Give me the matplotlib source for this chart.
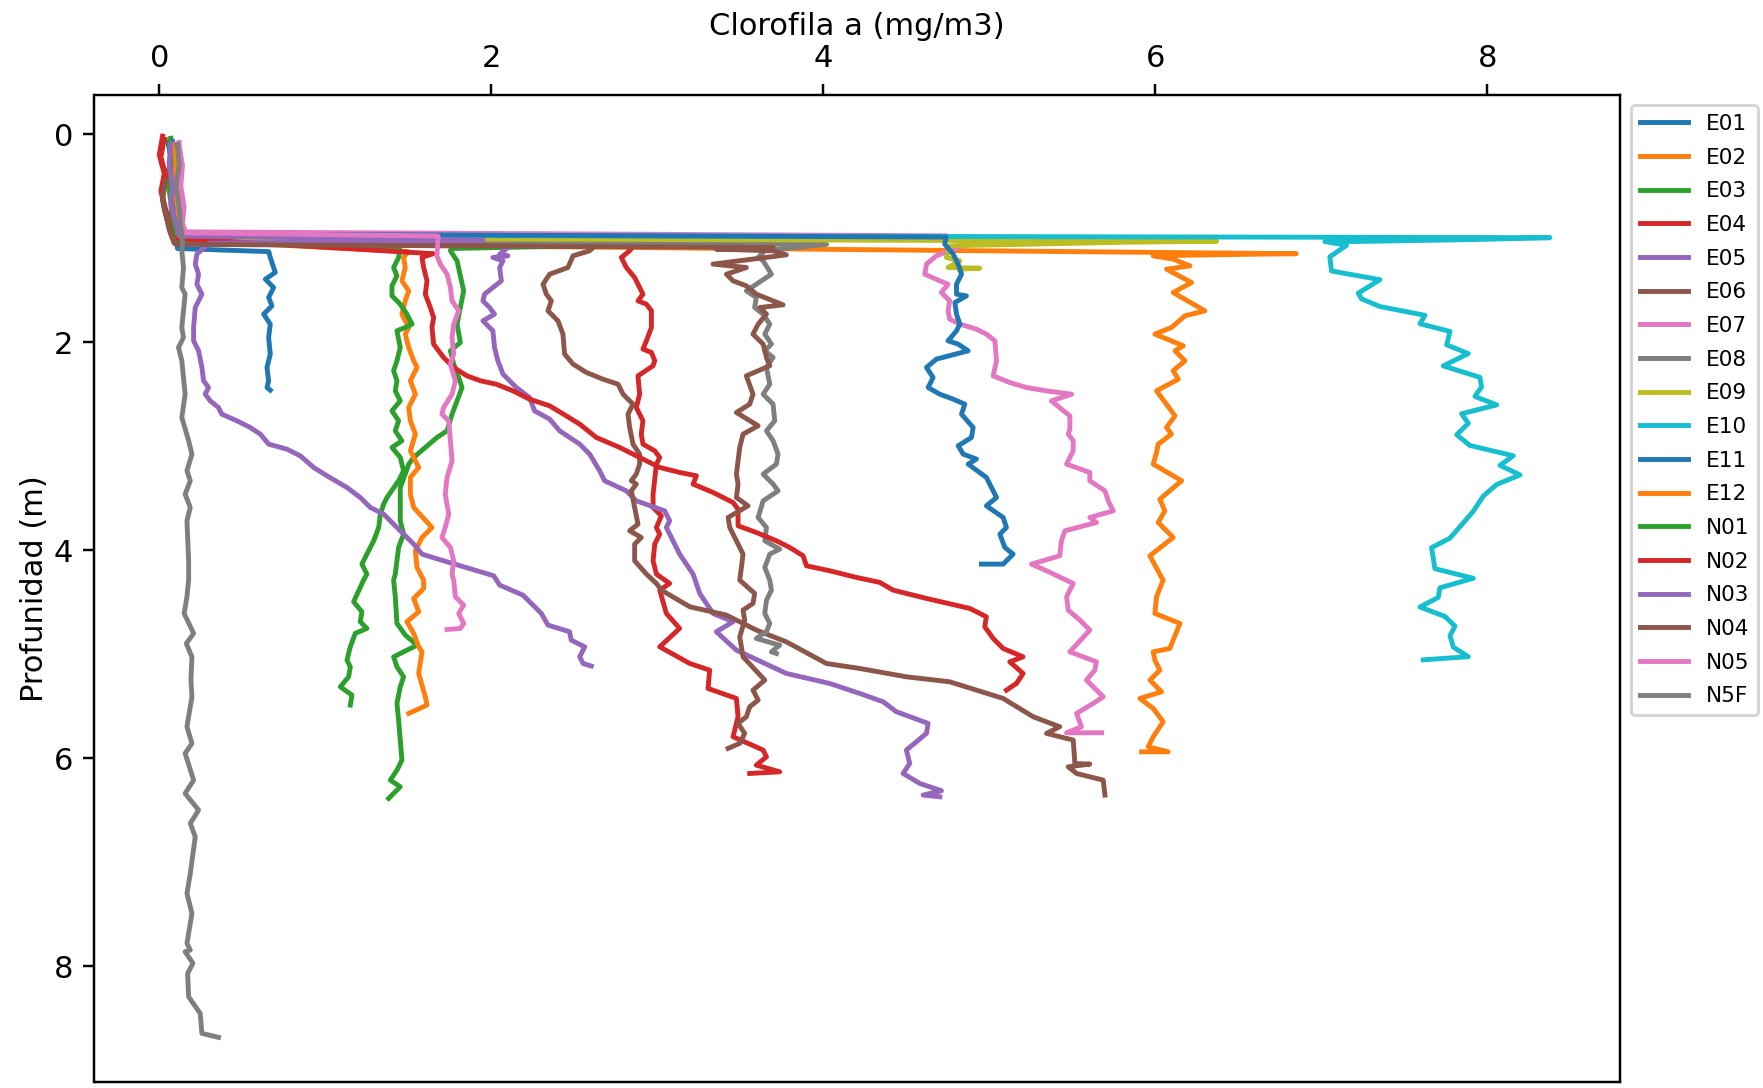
import matplotlib
matplotlib.use('Agg')
import matplotlib.pyplot as plt

# clorofila (x) y profundidad (d) por estacion
e01_x = [0.05, 0.07, 0.06, 0.08, 0.07, 0.10, 0.11, 0.66, 0.669, 0.699, 0.639, 0.689, 0.659, 0.679, 0.629, 0.669, 0.659, 0.669, 0.649, 0.659, 0.649, 0.669]
e01_d = [0.06, 0.22, 0.40, 0.58, 0.76, 0.92, 1.10, 1.13, 1.186, 1.33, 1.395, 1.475, 1.571, 1.651, 1.731, 1.827, 1.955, 2.115, 2.244, 2.372, 2.436, 2.461]

e02_x = [0.06, 0.08, 0.07, 0.09, 0.11, 0.13, 6.85, 6.631, 5.988, 6.108, 6.209, 6.068, 6.219, 6.108, 6.299, 6.179, 6.098, 5.998, 6.169, 6.119, 6.179, 6.108, 6.139, 6.008, 6.119, 6.068, 6.098, 6.018, 6.008, 5.988, 6.159, 6.028, 6.058, 6.018, 6.108, 5.968, 6.038, 6.048,
         6.008, 5.998, 6.149, 6.108, 6.088, 5.988, 5.998, 6.028, 5.968, 6.038, 5.908, 5.988, 6.048, 5.988, 5.958, 6.078, 5.918]
e02_d = [0.05, 0.25, 0.45, 0.65, 0.85, 1.05, 1.15, 1.154, 1.170, 1.202, 1.267, 1.299, 1.427, 1.523, 1.699, 1.747, 1.859, 1.923, 2.035, 2.083, 2.179, 2.275, 2.356, 2.468, 2.708, 2.820, 2.884, 2.980, 3.060, 3.172, 3.332, 3.509, 3.621, 3.733, 3.877, 4.053, 4.261, 4.287,
         4.447, 4.607, 4.703, 4.864, 4.944, 4.976, 5.056, 5.152, 5.248, 5.360, 5.424, 5.520, 5.648, 5.792, 5.888, 5.937, 5.937]

e03_x = [0.07, 0.08, 0.06, 0.08, 0.09, 0.11, 2.69, 1.76, 1.754, 1.794, 1.834, 1.814, 1.794, 1.814, 1.754, 1.774, 1.804, 1.824, 1.794, 1.764, 1.734, 1.673, 1.603, 1.533, 1.503, 1.482, 1.452, 1.452, 1.452, 1.472, 1.442, 1.432, 1.422,
         1.412, 1.422, 1.432, 1.482, 1.553, 1.412, 1.432, 1.472, 1.452, 1.432, 1.442, 1.452, 1.462, 1.432, 1.392, 1.452, 1.412, 1.382]
e03_d = [0.04, 0.22, 0.42, 0.62, 0.82, 1.00, 1.07, 1.10, 1.122, 1.218, 1.507, 1.667, 1.827, 2.003, 2.083, 2.211, 2.340, 2.436, 2.564, 2.692, 2.852, 2.916, 3.012, 3.108, 3.172, 3.268, 3.397, 3.557, 3.717, 3.845, 3.973, 4.101, 4.229,
         4.287, 4.447, 4.703, 4.815, 4.912, 5.024, 5.120, 5.216, 5.312, 5.472, 5.632, 5.824, 6.017, 6.113, 6.209, 6.273, 6.337, 6.385]

e04_x = [0.02, 0.00, 0.03, 0.01, 0.04, 0.07, 2.87, 2.834, 2.784, 2.814, 2.864, 2.894, 2.914, 2.884, 2.935, 2.965, 2.965, 2.935, 2.914, 2.965, 2.985, 2.975, 2.884, 2.894, 2.874, 2.914, 2.904, 2.914, 2.985, 3.015, 2.995, 2.975, 2.975, 3.025, 2.995, 3.015, 2.985, 2.975, 2.995,
         3.075, 3.015, 3.055, 3.135, 3.015, 3.196, 3.316, 3.306, 3.477, 3.487, 3.457, 3.638, 3.658, 3.597, 3.738, 3.557]
e04_d = [0.02, 0.20, 0.38, 0.55, 0.75, 0.95, 1.04, 1.122, 1.186, 1.283, 1.379, 1.475, 1.539, 1.603, 1.635, 1.699, 1.859, 1.987, 2.067, 2.099, 2.179, 2.227, 2.324, 2.500, 2.628, 2.756, 2.884, 2.980, 3.044, 3.108, 3.172, 3.461, 3.589, 3.669, 3.781, 3.845, 3.941, 4.101, 4.229,
         4.319, 4.383, 4.607, 4.751, 4.928, 5.088, 5.152, 5.328, 5.424, 5.600, 5.792, 5.920, 5.985, 6.065, 6.129, 6.145]

e05_x = [0.07, 0.09, 0.08, 0.10, 0.12, 0.15, 2.17, 2.051, 2.101, 2.010, 2.071, 2.051, 2.061, 2.010, 1.960, 1.950, 1.990, 2.020, 1.950, 2.010, 2.020, 2.040, 2.071, 2.151, 2.231, 2.261, 2.352, 2.412, 2.533, 2.593, 2.653, 2.683, 2.814, 2.874, 3.045, 3.075, 3.055, 3.135, 3.216,
         3.256, 3.336, 3.457, 3.356, 3.477, 3.778, 4.039, 4.220, 4.361, 4.441, 4.632, 4.622, 4.501, 4.521, 4.481, 4.582, 4.712, 4.602, 4.702]
e05_d = [0.10, 0.30, 0.50, 0.70, 0.85, 0.97, 1.00, 1.154, 1.170, 1.186, 1.218, 1.283, 1.411, 1.475, 1.539, 1.603, 1.667, 1.731, 1.795, 1.891, 2.051, 2.179, 2.307, 2.436, 2.532, 2.660, 2.740, 2.852, 2.980, 3.076, 3.236, 3.332, 3.429, 3.525, 3.621, 3.717, 3.781, 4.037, 4.229,
         4.415, 4.607, 4.687, 4.783, 4.960, 5.184, 5.280, 5.376, 5.456, 5.552, 5.664, 5.760, 5.920, 6.049, 6.145, 6.241, 6.311, 6.353, 6.369]

e06_x = [0.05, 0.03, 0.02, 0.04, 0.06, 0.09, 2.62, 2.593, 2.493, 2.462, 2.352, 2.312, 2.332, 2.362, 2.342, 2.402, 2.432, 2.442, 2.493, 2.573, 2.673, 2.764, 2.794, 2.854, 2.824, 2.834, 2.854, 2.894, 2.894, 2.874, 2.844, 2.874, 2.844, 2.864, 2.884, 2.834, 2.904, 2.864, 2.864, 2.935,
         2.995, 3.025, 3.196, 3.417, 3.497, 3.597, 3.778, 4.019, 4.220, 4.501, 4.762, 5.084, 5.265, 5.425, 5.345, 5.506, 5.516, 5.606, 5.476, 5.526, 5.687, 5.697]
e06_d = [0.35, 0.50, 0.64, 0.78, 0.92, 1.05, 1.08, 1.122, 1.170, 1.283, 1.347, 1.443, 1.539, 1.603, 1.699, 1.795, 1.923, 2.115, 2.211, 2.291, 2.356, 2.404, 2.500, 2.596, 2.692, 2.820, 2.980, 3.076, 3.172, 3.268, 3.332, 3.364, 3.429, 3.589, 3.749, 3.813, 3.877, 3.941, 4.101, 4.229,
         4.319, 4.383, 4.543, 4.623, 4.687, 4.767, 4.880, 5.088, 5.136, 5.216, 5.264, 5.424, 5.600, 5.696, 5.760, 5.824, 6.049, 6.055, 6.081, 6.145, 6.209, 6.353]

e07_x = [0.12, 0.13, 0.11, 0.14, 0.13, 0.14, 4.742, 4.823, 4.863, 4.783, 4.682, 4.622, 4.612, 4.702, 4.752, 4.712, 4.762, 4.752, 4.762, 4.823, 4.923, 4.983, 5.034, 5.044, 5.024, 5.124, 5.225, 5.345, 5.496, 5.375, 5.435, 5.486, 5.486, 5.476, 5.506, 5.506, 5.466,
         5.606, 5.606, 5.697, 5.717, 5.747, 5.606, 5.646, 5.456, 5.435, 5.425, 5.255, 5.345, 5.506, 5.466, 5.476, 5.546, 5.606, 5.486, 5.646, 5.636, 5.586, 5.687, 5.626, 5.526, 5.556, 5.466, 5.677]
e07_d = [0.08, 0.25, 0.45, 0.65, 0.82, 0.94, 0.978, 1.026, 1.058, 1.106, 1.170, 1.250, 1.347, 1.411, 1.443, 1.523, 1.603, 1.699, 1.779, 1.827, 1.875, 1.923, 1.987, 2.179, 2.324, 2.388, 2.436, 2.468, 2.500, 2.564, 2.644, 2.708, 2.836, 2.884, 2.948, 3.044, 3.172,
         3.252, 3.332, 3.429, 3.525, 3.621, 3.685, 3.733, 3.813, 3.909, 4.053, 4.133, 4.197, 4.319, 4.447, 4.575, 4.671, 4.767, 4.976, 5.072, 5.152, 5.248, 5.408, 5.472, 5.568, 5.696, 5.754, 5.754]

e08_x = [0.10, 0.11, 0.12, 0.11, 0.13, 0.14, 4.02, 3.65, 3.608, 3.638, 3.688, 3.597, 3.537, 3.597, 3.587, 3.638, 3.678, 3.648, 3.688, 3.648, 3.698, 3.658, 3.678, 3.638, 3.698, 3.708, 3.658, 3.698, 3.728, 3.718, 3.638, 3.698, 3.728, 3.638, 3.608, 3.658, 3.648, 3.738, 3.678, 3.648,
         3.678, 3.688, 3.658, 3.648, 3.678, 3.658, 3.597, 3.738, 3.688, 3.718]
e08_d = [0.12, 0.30, 0.50, 0.70, 0.88, 1.00, 1.06, 1.12, 1.186, 1.218, 1.347, 1.443, 1.507, 1.571, 1.667, 1.731, 1.827, 1.923, 2.019, 2.083, 2.147, 2.243, 2.404, 2.500, 2.596, 2.756, 2.852, 2.948, 3.076, 3.172, 3.268, 3.364, 3.429, 3.525, 3.685, 3.781, 3.909, 3.989, 4.037, 4.165,
         4.287, 4.383, 4.479, 4.607, 4.703, 4.783, 4.848, 4.912, 4.976, 4.992]

e09_x = [0.07, 0.08, 0.07, 0.09, 0.10, 0.12, 6.37, 5.80, 4.762, 4.742, 4.823, 4.752, 4.943, 4.823]
e09_d = [0.08, 0.25, 0.45, 0.65, 0.85, 1.00, 1.03, 1.04, 1.074, 1.186, 1.218, 1.283, 1.289, 1.299]

e10_x = [0.09, 0.10, 0.09, 0.11, 0.12, 0.13, 8.378, 7.916, 7.193, 7.022, 7.153, 7.052, 7.062, 7.354, 7.223, 7.243, 7.354, 7.625, 7.595, 7.776, 7.756, 7.886, 7.735, 7.956, 7.966, 7.926, 8.057, 7.846, 7.886, 7.816, 7.896, 8.157, 8.077, 8.198, 8.057, 7.977, 7.916,
         7.836, 7.776, 7.665, 7.685, 7.916, 7.715, 7.705, 7.595, 7.746, 7.806, 7.776, 7.796, 7.886, 7.615]
e10_d = [0.10, 0.30, 0.50, 0.70, 0.85, 0.97, 0.996, 1.014, 1.033, 1.033, 1.069, 1.180, 1.316, 1.400, 1.529, 1.584, 1.658, 1.742, 1.823, 1.897, 2.026, 2.110, 2.228, 2.338, 2.430, 2.522, 2.603, 2.688, 2.780, 2.890, 2.993, 3.092, 3.184, 3.276, 3.368, 3.478, 3.626,
         3.773, 3.883, 3.975, 4.177, 4.269, 4.361, 4.453, 4.545, 4.637, 4.729, 4.821, 4.931, 5.023, 5.053]

e11_x = [0.08, 0.09, 0.08, 0.10, 0.11, 0.13, 4.74, 4.732, 4.783, 4.813, 4.833, 4.803, 4.803, 4.863, 4.793, 4.803, 4.823, 4.803, 4.752, 4.813, 4.873, 4.682, 4.622, 4.662, 4.632, 4.702, 4.783, 4.853, 4.833, 4.903, 4.893, 4.813, 4.843, 4.923, 4.873, 4.983, 5.024, 5.044, 4.983,
         5.084, 5.104, 5.064, 5.094, 5.144, 5.084, 4.953]
e11_d = [0.07, 0.25, 0.45, 0.65, 0.82, 0.96, 0.99, 1.058, 1.154, 1.250, 1.347, 1.443, 1.539, 1.555, 1.619, 1.731, 1.827, 1.891, 1.987, 2.019, 2.083, 2.163, 2.243, 2.340, 2.436, 2.500, 2.548, 2.596, 2.692, 2.820, 2.916, 2.996, 3.076, 3.124, 3.172, 3.300, 3.429, 3.493, 3.573,
         3.685, 3.781, 3.845, 3.973, 4.037, 4.133, 4.133]

e12_x = [0.08, 0.10, 0.09, 0.11, 0.12, 0.14, 1.50, 1.472, 1.482, 1.462, 1.503, 1.482, 1.462, 1.503, 1.482, 1.503, 1.533, 1.553, 1.513, 1.543, 1.503, 1.513, 1.543, 1.513, 1.563, 1.513, 1.513, 1.533, 1.643, 1.583, 1.543, 1.553,
         1.593, 1.593, 1.533, 1.563, 1.492, 1.533, 1.563, 1.583, 1.563, 1.603, 1.613, 1.503]
e12_d = [0.10, 0.30, 0.50, 0.70, 0.88, 1.02, 1.13, 1.186, 1.283, 1.411, 1.507, 1.603, 1.731, 1.859, 1.923, 2.051, 2.179, 2.243, 2.371, 2.500, 2.628, 2.756, 2.884, 3.044, 3.204, 3.300, 3.461, 3.589, 3.781, 3.877, 4.005, 4.165,
         4.287, 4.367, 4.463, 4.591, 4.687, 4.799, 4.928, 4.976, 5.184, 5.408, 5.488, 5.568]

n01_x = [0.06, 0.07, 0.05, 0.07, 0.08, 0.10, 1.45, 1.442, 1.412, 1.432, 1.402, 1.402, 1.452, 1.492, 1.523, 1.482, 1.432, 1.452, 1.432, 1.412, 1.432, 1.422, 1.452, 1.402, 1.442, 1.422, 1.462, 1.402, 1.452, 1.472, 1.442, 1.372, 1.352, 1.332, 1.322, 1.292, 1.251, 1.221, 1.251,
         1.231, 1.171, 1.221, 1.211, 1.251, 1.181, 1.151, 1.131, 1.151, 1.141, 1.091, 1.161, 1.151]
n01_d = [0.07, 0.25, 0.45, 0.65, 0.85, 1.02, 1.11, 1.186, 1.283, 1.363, 1.459, 1.555, 1.635, 1.731, 1.827, 1.859, 1.891, 2.051, 2.179, 2.275, 2.371, 2.468, 2.564, 2.660, 2.756, 2.852, 2.948, 3.012, 3.108, 3.236, 3.332, 3.493, 3.557, 3.653, 3.781, 3.909, 4.037, 4.133, 4.229,
         4.287, 4.495, 4.591, 4.687, 4.751, 4.799, 4.928, 5.056, 5.120, 5.216, 5.312, 5.392, 5.488]

n02_x = [0.03, 0.01, 0.04, 0.02, 0.05, 0.08, 1.65, 1.583, 1.593, 1.613, 1.603, 1.633, 1.653, 1.643, 1.653, 1.713, 1.774, 1.854, 1.935, 2.030, 2.131, 2.231, 2.352, 2.452, 2.533, 2.633, 2.774, 2.894, 3.015, 3.135, 3.236, 3.216, 3.336, 3.457, 3.487, 3.487, 3.597, 3.718, 3.798, 3.879, 3.899, 4.039, 4.200,
         4.341, 4.421, 4.622, 4.883, 4.983, 4.973, 5.024, 5.084, 5.204, 5.124, 5.204, 5.164, 5.104]
n02_d = [0.05, 0.22, 0.40, 0.60, 0.80, 1.00, 1.15, 1.186, 1.283, 1.411, 1.539, 1.667, 1.763, 1.859, 2.019, 2.147, 2.243, 2.324, 2.371, 2.404, 2.468, 2.548, 2.612, 2.708, 2.788, 2.916, 3.012, 3.108, 3.204, 3.252, 3.284, 3.364, 3.444, 3.541, 3.605, 3.765, 3.829, 3.909, 3.973, 4.053, 4.149, 4.197, 4.261,
         4.309, 4.383, 4.463, 4.559, 4.639, 4.735, 4.848, 4.944, 5.024, 5.072, 5.184, 5.280, 5.344]

n03_x = [0.07, 0.06, 0.08, 0.07, 0.10, 0.12, 1.95, 0.30, 0.227, 0.217, 0.237, 0.227, 0.257, 0.217, 0.207, 0.207, 0.237, 0.257, 0.267, 0.297, 0.277, 0.307, 0.357, 0.377, 0.468, 0.548, 0.609, 0.659, 0.769, 0.850, 0.930, 1.010, 1.131, 1.211, 1.272, 1.352, 1.452, 1.533, 1.583, 1.713, 1.814, 1.914, 2.015,
         2.051, 2.191, 2.302, 2.342, 2.472, 2.482, 2.563, 2.533, 2.553, 2.603]
n03_d = [0.09, 0.28, 0.48, 0.68, 0.85, 0.98, 1.02, 1.05, 1.154, 1.250, 1.347, 1.443, 1.539, 1.667, 1.859, 1.987, 2.083, 2.243, 2.371, 2.436, 2.500, 2.564, 2.628, 2.692, 2.756, 2.820, 2.884, 2.980, 3.028, 3.093, 3.204, 3.284, 3.397, 3.493, 3.589, 3.653, 3.813, 3.941, 4.037, 4.101, 4.149, 4.197, 4.245,
         4.335, 4.431, 4.607, 4.719, 4.783, 4.864, 4.928, 5.024, 5.088, 5.113]

n04_x = [0.04, 0.02, 0.03, 0.05, 0.07, 0.10, 3.70, 3.356, 3.698, 3.778, 3.336, 3.537, 3.417, 3.457, 3.537, 3.597, 3.758, 3.618, 3.658, 3.608, 3.577, 3.638, 3.658, 3.678, 3.537, 3.577, 3.557, 3.477, 3.608, 3.517, 3.497, 3.487, 3.477, 3.487, 3.477, 3.547, 3.427, 3.437, 3.487, 3.517, 3.507,
         3.497, 3.587, 3.577, 3.517, 3.527, 3.497, 3.517, 3.648, 3.577, 3.608, 3.557, 3.537, 3.487, 3.527, 3.497, 3.427]
n04_d = [0.45, 0.60, 0.72, 0.84, 0.96, 1.06, 1.09, 1.106, 1.122, 1.161, 1.250, 1.283, 1.347, 1.411, 1.459, 1.539, 1.641, 1.667, 1.731, 1.827, 1.923, 2.019, 2.147, 2.227, 2.324, 2.500, 2.596, 2.676, 2.804, 2.884, 3.012, 3.140, 3.268, 3.364, 3.493, 3.573, 3.685, 3.781, 3.941, 4.037, 4.165,
         4.287, 4.415, 4.511, 4.575, 4.671, 4.832, 5.024, 5.248, 5.344, 5.440, 5.504, 5.600, 5.664, 5.760, 5.856, 5.904]

n05_x = [0.12, 0.14, 0.13, 0.15, 0.14, 0.16, 1.68, 1.673, 1.693, 1.734, 1.754, 1.764, 1.804, 1.774, 1.764, 1.774, 1.754, 1.784, 1.764, 1.713, 1.703, 1.744, 1.754, 1.764, 1.734, 1.723, 1.744, 1.723, 1.703, 1.754, 1.774, 1.764,
         1.774, 1.784, 1.834, 1.804, 1.834, 1.814, 1.734]
n05_d = [0.12, 0.30, 0.50, 0.70, 0.86, 0.95, 0.98, 1.170, 1.250, 1.347, 1.475, 1.603, 1.699, 1.827, 1.955, 2.115, 2.211, 2.371, 2.500, 2.628, 2.692, 2.756, 2.948, 3.140, 3.300, 3.461, 3.653, 3.781, 3.877, 3.973, 4.101, 4.229,
         4.287, 4.447, 4.527, 4.607, 4.703, 4.751, 4.761]

n5f_x = [0.11, 0.12, 0.10, 0.12, 0.13, 0.14, 0.136, 0.146, 0.136, 0.156, 0.136, 0.146, 0.116, 0.136, 0.146, 0.156, 0.136, 0.177, 0.197, 0.167, 0.187, 0.156, 0.187, 0.167, 0.177,
         0.177, 0.167, 0.150, 0.207, 0.163, 0.197, 0.191, 0.197, 0.167, 0.197, 0.156, 0.207, 0.156, 0.237, 0.187, 0.217, 0.187, 0.167, 0.197, 0.167, 0.187, 0.156, 0.203, 0.171, 0.177, 0.247, 0.257, 0.357]
n5f_d = [0.10, 0.30, 0.50, 0.70, 0.90, 1.05, 1.122, 1.283, 1.475, 1.539, 1.859, 1.955, 2.051, 2.179, 2.340, 2.500, 2.724, 2.948, 3.076, 3.236, 3.332, 3.461, 3.589, 3.717, 4.101,
         4.287, 4.447, 4.607, 4.799, 4.896, 5.024, 5.248, 5.408, 5.696, 5.856, 5.952, 6.209, 6.337, 6.497, 6.625, 6.753, 7.106, 7.298, 7.490, 7.778, 7.842, 7.858, 7.970, 8.067, 8.291, 8.451, 8.643, 8.681]

estaciones = ['E01', 'E02', 'E03', 'E04', 'E05', 'E06', 'E07', 'E08', 'E09', 'E10',
              'E11', 'E12', 'N01', 'N02', 'N03', 'N04', 'N05', 'N5F']
perfiles_x = [e01_x, e02_x, e03_x, e04_x, e05_x, e06_x, e07_x, e08_x, e09_x, e10_x,
              e11_x, e12_x, n01_x, n02_x, n03_x, n04_x, n05_x, n5f_x]
perfiles_d = [e01_d, e02_d, e03_d, e04_d, e05_d, e06_d, e07_d, e08_d, e09_d, e10_d,
              e11_d, e12_d, n01_d, n02_d, n03_d, n04_d, n05_d, n5f_d]

fig = plt.figure(figsize=(1764 / 220, 1088 / 220), dpi=220)
ax = fig.add_axes([94.5 / 1764, 1 - 1082 / 1088, (1620 - 94.5) / 1764, (1082 - 94.5) / 1088])

for nombre, x, d in zip(estaciones, perfiles_x, perfiles_d):
    ax.plot(x, d, label=nombre, lw=1.6)

ax.set_xlim(-0.39, 8.80)
ax.set_ylim(9.11, -0.38)
ax.xaxis.tick_top()
ax.xaxis.set_label_position('top')
ax.set_xlabel('Clorofila a (mg/m3)', labelpad=3)
ax.set_ylabel('Profunidad (m)', labelpad=1.5)
ax.legend(loc='upper left', bbox_to_anchor=(1, 1), fontsize=7.1, handlelength=2.25,
          labelspacing=0.63)

fig.savefig('out.png', dpi=220)
